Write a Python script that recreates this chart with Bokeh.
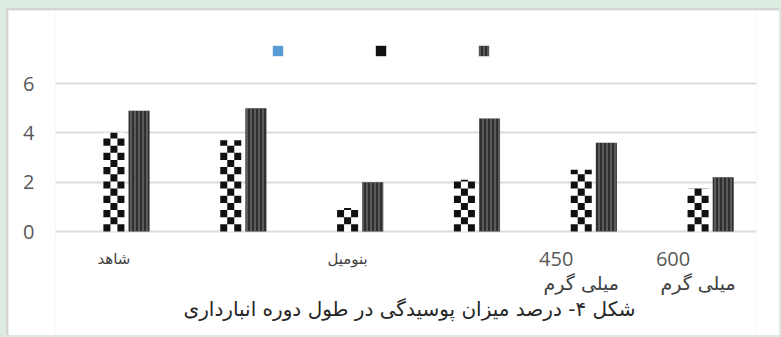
import math
from bokeh.plotting import figure
from bokeh.models import Legend, LegendItem, Label, FixedTicker, Range1d, ColumnDataSource
from bokeh.transform import dodge
from bokeh.layouts import column
from bokeh.embed import file_html
from bokeh.resources import INLINE

# ---- data ----
categories = ["شاهد", "c2", "بنومیل", "c4", "450 میلی گرم", "600 میلی گرم"]
label_numbers = ["", "", "", "", "450", "600"]
label_names = ["شاهد", "", "بنومیل", "", "میلی گرم", "میلی گرم"]
blue_values = [0, 0, 0, 0, 0, 0]
checker_values = [4.0, 3.7, 0.95, 2.1, 2.5, 1.75]
dense_values = [4.9, 5.0, 2.0, 4.58, 3.6, 2.2]
y_ticks = [0, 2, 4, 6]
caption = "شکل ۴- درصد میزان پوسیدگی در طول دوره انبارداری"

xs = list(range(len(categories)))
src = ColumnDataSource(dict(x=xs, blue=blue_values, checker=checker_values, dense=dense_values))

# frame spans the full figure height; 0 at 221px, 6 at 73px from the figure top
px_per_unit = 148 / 6
y_lo = -(327 - 221) / px_per_unit
y_hi = 221 / px_per_unit

p = figure(width=773, height=327, output_backend="svg", toolbar_location=None,
           x_range=Range1d(-0.5, len(categories) - 0.5), y_range=Range1d(y_lo, y_hi),
           min_border_left=47, min_border_right=25, min_border_top=0, min_border_bottom=0,
           background_fill_color="white", border_fill_color="white")
p.margin = (8, 0, 0, 6)
p.styles = {"border-top": "2px solid #d4d4d4", "border-left": "2px solid #d4d4d4"}
p.outline_line_color = None
p.xaxis.visible = False
p.xgrid.visible = False
p.ygrid.grid_line_color = "#dcdcdc"
p.ygrid.grid_line_width = 2
p.yaxis.ticker = FixedTicker(ticks=y_ticks)
p.yaxis.axis_line_color = None
p.yaxis.major_tick_line_color = None
p.yaxis.minor_tick_line_color = None
p.yaxis.major_tick_out = 0
p.yaxis.major_label_standoff = 21
p.yaxis.major_label_text_font = "Open Sans"
p.yaxis.major_label_text_font_size = "20px"
p.yaxis.major_label_text_color = "#595959"

bw = 0.18
off = 0.215

blue_r = p.vbar(x=dodge("x", -off), top="blue", width=bw, source=src,
                fill_color="#5B9BD5", line_color=None)
p.vbar(x="x", top="checker", width=bw, source=src, fill_color="white", line_color=None)

# checkerboard squares derived from the checker values
sq_h = 0.29
ncol = 3
cw = bw / ncol
L, R, B, T = [], [], [], []
for i, v in enumerate(checker_values):
    nrows = int(math.ceil(v / sq_h))
    for r in range(nrows):
        for c in range(ncol):
            if (r + c) % 2 == 0:
                left = xs[i] - bw / 2 + c * cw
                L.append(left)
                R.append(left + cw)
                B.append(r * sq_h)
                T.append(min((r + 1) * sq_h, v))
checker_r = p.quad(left=L, right=R, bottom=B, top=T, fill_color="#111111", line_color=None)

dense_r = p.vbar(x=dodge("x", off), top="dense", width=bw, source=src,
                 fill_color="#303030", line_color=None,
                 hatch_pattern="vertical_line", hatch_color="#858585",
                 hatch_scale=4, hatch_weight=1)

legend = Legend(items=[LegendItem(label=" ", renderers=[blue_r]),
                       LegendItem(label=" ", renderers=[checker_r]),
                       LegendItem(label=" ", renderers=[dense_r])],
                location=(216, 280), orientation="horizontal",
                glyph_width=13, glyph_height=13, label_width=80, label_height=13,
                label_standoff=0, spacing=10, padding=0, margin=0,
                border_line_color=None, background_fill_alpha=0,
                label_text_font_size="8px")
p.add_layout(legend)

# category labels
for i in xs:
    if label_names[i] and not label_numbers[i]:
        p.add_layout(Label(x=i, y=-1.095, text=label_names[i], text_align="center",
                           text_baseline="middle", text_font="DejaVu Sans",
                           text_font_size="15px", text_color="#404040"))
    if label_numbers[i]:
        p.add_layout(Label(x=i, y=-1.135, x_offset=-25, text=label_numbers[i],
                           text_align="center", text_baseline="middle",
                           text_font="Open Sans", text_font_size="20px",
                           text_color="#595959"))
        p.add_layout(Label(x=i, y=-2.07, text=label_names[i], text_align="center",
                           text_baseline="middle", text_font="DejaVu Sans",
                           text_font_size="19px", text_color="#404040"))

p.add_layout(Label(x=2.53, y=-3.16, text=caption, text_align="center",
                   text_baseline="middle", text_font="DejaVu Sans",
                   text_font_size="20px", text_color="#262626"))

layout = column(p, width=781, height=337, styles={"background-color": "#dcebdf"})
open("out.html", "w").write(file_html(layout, INLINE))
